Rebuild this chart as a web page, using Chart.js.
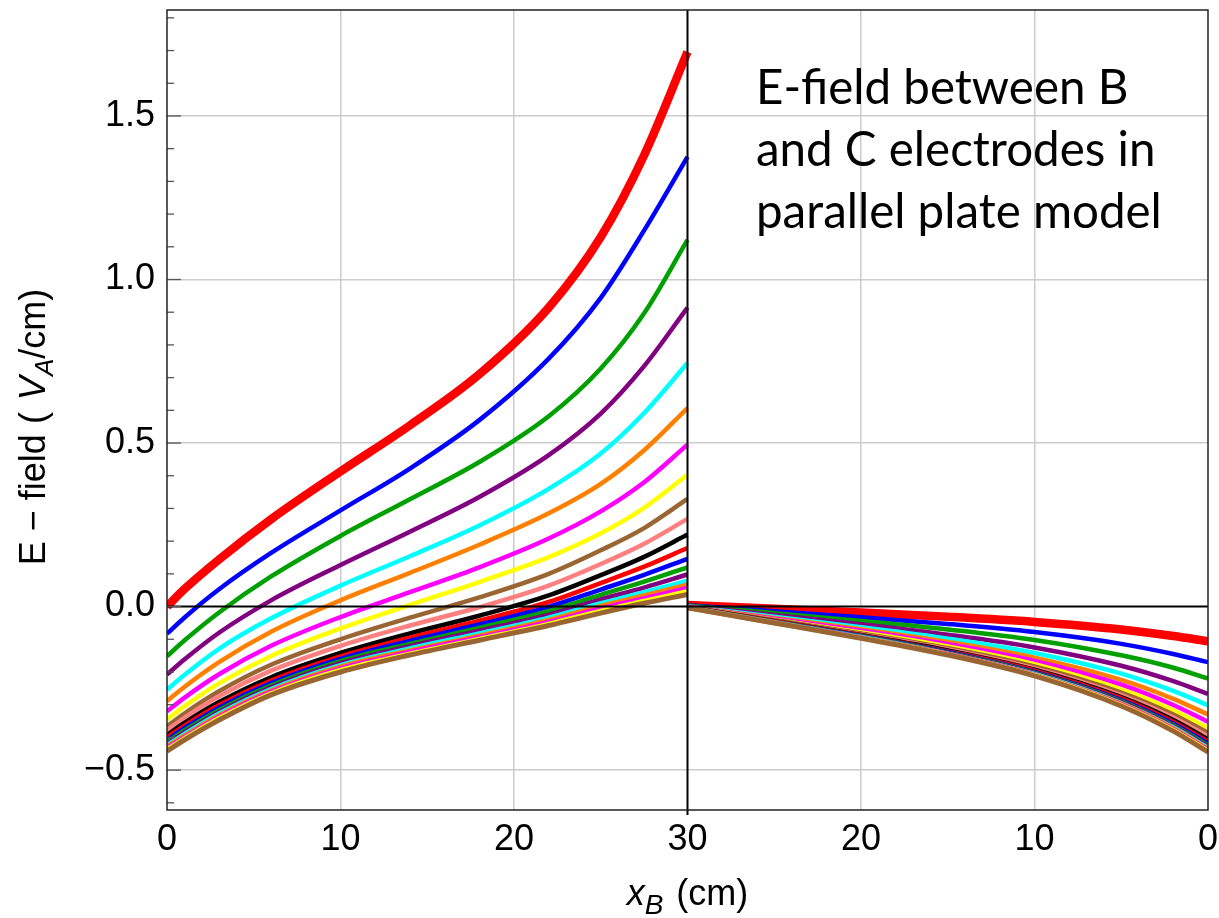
<!DOCTYPE html>
<html>
<head>
<meta charset="utf-8">
<title>E-field between B and C electrodes</title>
<script src="https://cdn.jsdelivr.net/npm/chart.js@4.4.0/dist/chart.umd.min.js"></script>
<style>
  html, body { margin: 0; padding: 0; background: #fff; }
  #wrap { position: relative; width: 1219px; height: 918px; }
</style>
</head>
<body>
<div id="wrap"><canvas id="efield"></canvas></div>
<script>
// sample positions in cm: left half runs 0 -> 30 from B, right half 30 -> 0 towards C
const xLeft = [0, 1, 3, 6, 10, 14, 18, 22, 25, 27.5, 30];
const xRight = [30, 25, 20, 15, 10, 5, 2, 0];

const lineColors = [
  '#ff0000', '#0000ff', '#00a000', '#800080', '#00ffff', '#ff8000', '#ff00ff', '#ffff00', '#996633', '#ff8080',
  '#000000', '#ff0000', '#0000ff', '#00a000', '#800080', '#00ffff', '#ff8000', '#ff00ff', '#ffff00', '#996633'
];
const lineWidths = [8.5, 4.5, 4.5, 4.5, 4.5, 4.5, 4.5, 4.5, 4.5, 4.5, 4.5, 4.5, 4.5, 4.5, 4.5, 4.5, 4.5, 4.5, 4.5, 5];

// field between B and the middle plate (V_A/cm)
const leftCurves = [
  [0.000, 0.053, 0.144, 0.267, 0.413, 0.554, 0.710, 0.914, 1.130, 1.380, 1.696],
  [-0.083, -0.034, 0.053, 0.164, 0.294, 0.422, 0.570, 0.758, 0.944, 1.150, 1.375],
  [-0.152, -0.104, -0.018, 0.092, 0.216, 0.328, 0.442, 0.582, 0.728, 0.897, 1.121],
  [-0.208, -0.162, -0.080, 0.019, 0.127, 0.229, 0.335, 0.463, 0.590, 0.735, 0.914],
  [-0.254, -0.209, -0.129, -0.036, 0.064, 0.154, 0.248, 0.360, 0.468, 0.592, 0.745],
  [-0.289, -0.246, -0.170, -0.077, 0.019, 0.103, 0.189, 0.285, 0.375, 0.478, 0.607],
  [-0.320, -0.279, -0.207, -0.120, -0.032, 0.044, 0.120, 0.208, 0.291, 0.380, 0.495],
  [-0.345, -0.305, -0.235, -0.151, -0.067, 0.005, 0.075, 0.151, 0.224, 0.302, 0.403],
  [-0.366, -0.327, -0.259, -0.178, -0.100, -0.034, 0.028, 0.100, 0.172, 0.240, 0.329],
  [-0.378, -0.340, -0.274, -0.196, -0.120, -0.058, -0.002, 0.064, 0.130, 0.192, 0.268],
  [-0.393, -0.356, -0.292, -0.216, -0.142, -0.082, -0.028, 0.034, 0.096, 0.152, 0.220],
  [-0.400, -0.364, -0.301, -0.226, -0.152, -0.095, -0.043, 0.014, 0.072, 0.122, 0.179],
  [-0.408, -0.372, -0.309, -0.234, -0.160, -0.105, -0.055, -0.001, 0.052, 0.097, 0.146],
  [-0.414, -0.379, -0.316, -0.241, -0.167, -0.114, -0.065, -0.014, 0.036, 0.076, 0.120],
  [-0.420, -0.385, -0.322, -0.247, -0.173, -0.121, -0.074, -0.025, 0.022, 0.058, 0.098],
  [-0.424, -0.390, -0.327, -0.252, -0.179, -0.128, -0.082, -0.034, 0.010, 0.044, 0.079],
  [-0.428, -0.395, -0.332, -0.257, -0.184, -0.134, -0.089, -0.041, 0.002, 0.034, 0.067],
  [-0.432, -0.399, -0.337, -0.261, -0.189, -0.139, -0.094, -0.047, -0.006, 0.025, 0.057],
  [-0.436, -0.403, -0.341, -0.265, -0.194, -0.144, -0.099, -0.053, -0.013, 0.017, 0.047],
  [-0.442, -0.408, -0.347, -0.270, -0.200, -0.148, -0.103, -0.058, -0.020, 0.010, 0.037]
];

// field between the middle plate and C
const rightCurves = [
  [0.005, -0.007, -0.018, -0.031, -0.047, -0.070, -0.090, -0.106],
  [0.004, -0.014, -0.033, -0.053, -0.078, -0.114, -0.145, -0.170],
  [0.003, -0.020, -0.044, -0.070, -0.102, -0.149, -0.187, -0.220],
  [0.002, -0.026, -0.054, -0.086, -0.125, -0.181, -0.228, -0.267],
  [0.001, -0.031, -0.063, -0.098, -0.142, -0.205, -0.258, -0.302],
  [0.000, -0.035, -0.069, -0.108, -0.156, -0.224, -0.282, -0.330],
  [0.000, -0.037, -0.074, -0.115, -0.166, -0.239, -0.301, -0.352],
  [-0.001, -0.040, -0.079, -0.122, -0.176, -0.253, -0.317, -0.371],
  [-0.001, -0.041, -0.082, -0.127, -0.183, -0.263, -0.330, -0.386],
  [-0.002, -0.043, -0.085, -0.131, -0.189, -0.271, -0.339, -0.397],
  [-0.002, -0.044, -0.087, -0.134, -0.193, -0.277, -0.347, -0.406],
  [-0.002, -0.045, -0.088, -0.137, -0.196, -0.281, -0.353, -0.413],
  [-0.003, -0.047, -0.090, -0.139, -0.200, -0.286, -0.358, -0.419],
  [-0.003, -0.047, -0.091, -0.141, -0.202, -0.289, -0.363, -0.424],
  [-0.003, -0.048, -0.092, -0.142, -0.204, -0.292, -0.366, -0.428],
  [-0.003, -0.048, -0.093, -0.144, -0.206, -0.295, -0.369, -0.432],
  [-0.004, -0.049, -0.095, -0.145, -0.208, -0.297, -0.372, -0.435],
  [-0.004, -0.050, -0.095, -0.146, -0.209, -0.299, -0.375, -0.438],
  [-0.004, -0.050, -0.096, -0.147, -0.210, -0.301, -0.377, -0.441],
  [-0.004, -0.050, -0.097, -0.148, -0.212, -0.304, -0.381, -0.445]
];

const xTicks = [0, 10, 20, 30, 40, 50, 60];
const xTickLabels = ['0', '10', '20', '30', '20', '10', '0'];
const yTicks = [-0.5, 0, 0.5, 1.0, 1.5];
const noteLines = ['E-field between B', 'and C electrodes in', 'parallel plate model'];

const axisFont = '"Liberation Sans", Arial, sans-serif';

// one dataset per half per curve, plot x runs 0..60
const datasets = [];
const n = leftCurves.length;
for (let i = 0; i < n; i++) {
  const common = {
    borderColor: lineColors[i],
    borderWidth: lineWidths[i],
    pointRadius: 0,
    cubicInterpolationMode: 'monotone',
    fill: false,
    order: n - i
  };
  datasets.push(Object.assign({
    data: xLeft.map((x, k) => ({ x: x, y: leftCurves[i][k] }))
  }, common));
  datasets.push(Object.assign({
    data: xRight.map((d, k) => ({ x: 60 - d, y: rightCurves[i][k] }))
  }, common));
}

function drawRuns(ctx, runs, x, y, align) {
  let w = 0;
  runs.forEach(r => { ctx.font = r.font; w += ctx.measureText(r.text).width + (r.gap || 0); });
  let cx = align === 'center' ? x - w / 2 : x;
  runs.forEach(r => {
    ctx.font = r.font;
    ctx.fillText(r.text, cx, y + (r.dy || 0));
    cx += ctx.measureText(r.text).width + (r.gap || 0);
  });
}

const framePlugin = {
  id: 'framePlugin',
  afterDatasetsDraw(chart) {
    const { ctx, chartArea: a, scales: { x, y } } = chart;
    ctx.save();
    // zero line and the plate at 30 cm
    ctx.strokeStyle = '#000';
    ctx.lineWidth = 2;
    const y0 = y.getPixelForValue(0);
    ctx.beginPath(); ctx.moveTo(a.left, y0); ctx.lineTo(a.right, y0); ctx.stroke();
    const x30 = x.getPixelForValue(30);
    ctx.beginPath(); ctx.moveTo(x30, a.top); ctx.lineTo(x30, a.bottom + 5); ctx.stroke();

    // inward ticks on the left frame
    ctx.strokeStyle = '#555';
    ctx.lineWidth = 1.3;
    for (let i = -6; i <= 18; i++) {
      const py = y.getPixelForValue(i / 10);
      const len = i % 5 === 0 ? 14 : 7;
      ctx.beginPath(); ctx.moveTo(a.left, py); ctx.lineTo(a.left + len, py); ctx.stroke();
    }

    // frame
    ctx.strokeStyle = '#222';
    ctx.lineWidth = 1.5;
    ctx.strokeRect(a.left, a.top, a.right - a.left, a.bottom - a.top);

    // axis titles
    ctx.fillStyle = '#000';
    ctx.textBaseline = 'alphabetic';
    drawRuns(ctx, [
      { text: 'x', font: 'italic 36px ' + axisFont },
      { text: 'B', font: 'italic 28px ' + axisFont, dy: 9, gap: 13 },
      { text: '(cm)', font: '36px ' + axisFont }
    ], x30, 905, 'center');

    ctx.save();
    ctx.translate(45, 427);
    ctx.rotate(-Math.PI / 2);
    drawRuns(ctx, [
      { text: 'E \u2212 field (', font: '36px ' + axisFont, gap: 12 },
      { text: 'V', font: 'italic 36px ' + axisFont },
      { text: 'A', font: 'italic 26px ' + axisFont, dy: 8 },
      { text: '/cm)', font: '36px ' + axisFont }
    ], 0, 0, 'center');
    ctx.restore();

    // note in the upper right
    ctx.font = '47.5px Lato, "Open Sans", sans-serif';
    ctx.textAlign = 'left';
    noteLines.forEach((t, k) => ctx.fillText(t, 756, 104 + k * 62));
    ctx.restore();
  }
};

new Chart(document.getElementById('efield'), {
  type: 'line',
  data: { datasets: datasets },
  options: {
    responsive: true,
    maintainAspectRatio: false,
    animation: false,
    layout: { padding: { top: 10, right: 11, left: 0, bottom: 0 } },
    plugins: { legend: { display: false }, tooltip: { enabled: false } },
    scales: {
      x: {
        type: 'linear',
        min: 0,
        max: 60,
        afterBuildTicks: s => { s.ticks = xTicks.map(v => ({ value: v })); },
        afterFit: s => { s.height = 108; s.paddingLeft = 0; s.paddingRight = 0; },
        ticks: {
          padding: 8,
          color: '#000',
          font: { family: axisFont, size: 36 },
          maxRotation: 0,
          callback: v => xTickLabels[xTicks.indexOf(v)]
        },
        grid: {
          drawTicks: false,
          lineWidth: 1.5,
          color: c => (c.tick && (c.tick.value === 30 || c.tick.value === 0 || c.tick.value === 60)) ? 'rgba(0,0,0,0)' : '#cccccc'
        },
        border: { display: false }
      },
      y: {
        type: 'linear',
        min: -0.622,
        max: 1.824,
        afterBuildTicks: s => { s.ticks = yTicks.map(v => ({ value: v })); },
        afterFit: s => { s.width = 167; s.paddingTop = 0; s.paddingBottom = 0; },
        ticks: {
          padding: 12,
          color: '#000',
          font: { family: axisFont, size: 36 },
          callback: v => v.toFixed(1).replace('-', '\u2212')
        },
        grid: {
          drawTicks: false,
          lineWidth: 1.5,
          color: c => (c.tick && c.tick.value === 0) ? 'rgba(0,0,0,0)' : '#cccccc'
        },
        border: { display: false }
      }
    }
  },
  plugins: [framePlugin]
});
</script>
</body>
</html>
